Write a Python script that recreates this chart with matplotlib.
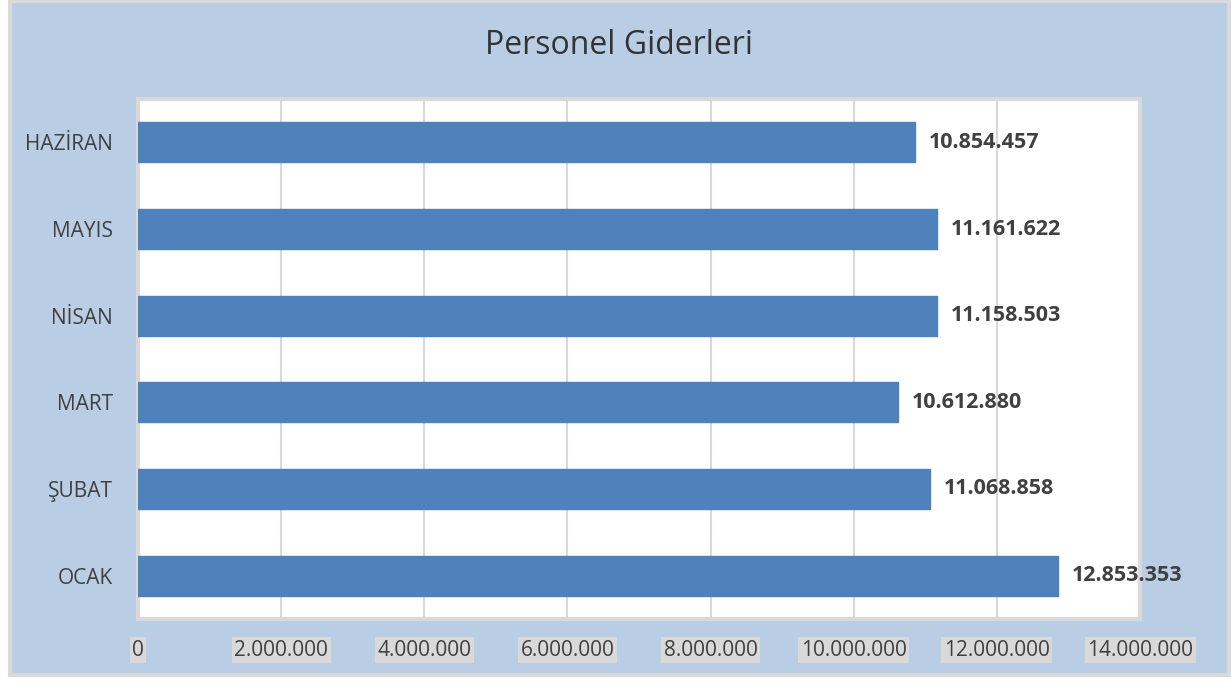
import matplotlib
matplotlib.use("Agg")
import matplotlib.pyplot as plt
from matplotlib.patches import Rectangle
from matplotlib.ticker import FuncFormatter

months = ["OCAK", "ŞUBAT", "MART", "NİSAN", "MAYIS", "HAZİRAN"]
values = [12853353, 11068858, 10612880, 11158503, 11161622, 10854457]
xticks = [0, 2000000, 4000000, 6000000, 8000000, 10000000, 12000000, 14000000]
title = "Personel Giderleri"

plt.rcParams['font.family'] = ['Open Sans', 'DejaVu Sans']

W, H = 1231, 683
fig = plt.figure(figsize=(W / 100, H / 100), dpi=100)
fig.patch.set_facecolor("white")

# chart area background with gray border
fig.patches.append(Rectangle((10 / W, 1 - 675 / H), (1229 - 10) / W, (675 - 1) / H,
                             transform=fig.transFigure, facecolor="#B9CDE5",
                             edgecolor="#D9D9D9", linewidth=3, zorder=-5))

ax = fig.add_axes([138 / W, 1 - 619 / H, (1140 - 138) / W, (619 - 99) / H])
ax.set_zorder(2)
ax.set_facecolor("white")

def fmt(v):
    return f"{int(v):,}".replace(",", ".")

ypos = list(range(len(months)))
bars = ax.barh(ypos, values, height=0.46, color="#4F81BD", edgecolor="#4F81BD",
               linewidth=1, joinstyle="round", zorder=3)

for y, v in zip(ypos, values):
    ax.annotate(fmt(v), xy=(v, y), xytext=(10, 0), textcoords="offset points",
                ha="left", va="center", fontsize=15.5, fontweight="bold",
                color="#404040", zorder=5, annotation_clip=False)

ax.set_xlim(0, 14000000)
ax.set_ylim(-0.5, len(months) - 0.5)
ax.set_xticks(xticks)
ax.xaxis.set_major_formatter(FuncFormatter(lambda v, p: fmt(v)))
ax.set_yticks(ypos)
ax.set_yticklabels(months)

ax.grid(axis="x", color="#D9D9D9", linewidth=1.5, zorder=1)
ax.set_axisbelow(True)
for s in ax.spines.values():
    s.set_color("#D9D9D9")
    s.set_linewidth(3)

ax.tick_params(axis="x", length=0, pad=15, labelsize=15, labelcolor="#404040")
ax.tick_params(axis="y", length=0, pad=18, labelsize=15, labelcolor="#404040")
for lbl in ax.get_xticklabels():
    lbl.set_bbox(dict(boxstyle="square,pad=0.12", facecolor="#D9D9D9", edgecolor="none"))

fig.text(619 / W, 1 - 45 / H, title, ha="center", va="center", fontsize=23, color="#333333")

fig.savefig("out.png", dpi=100, facecolor=fig.get_facecolor())
